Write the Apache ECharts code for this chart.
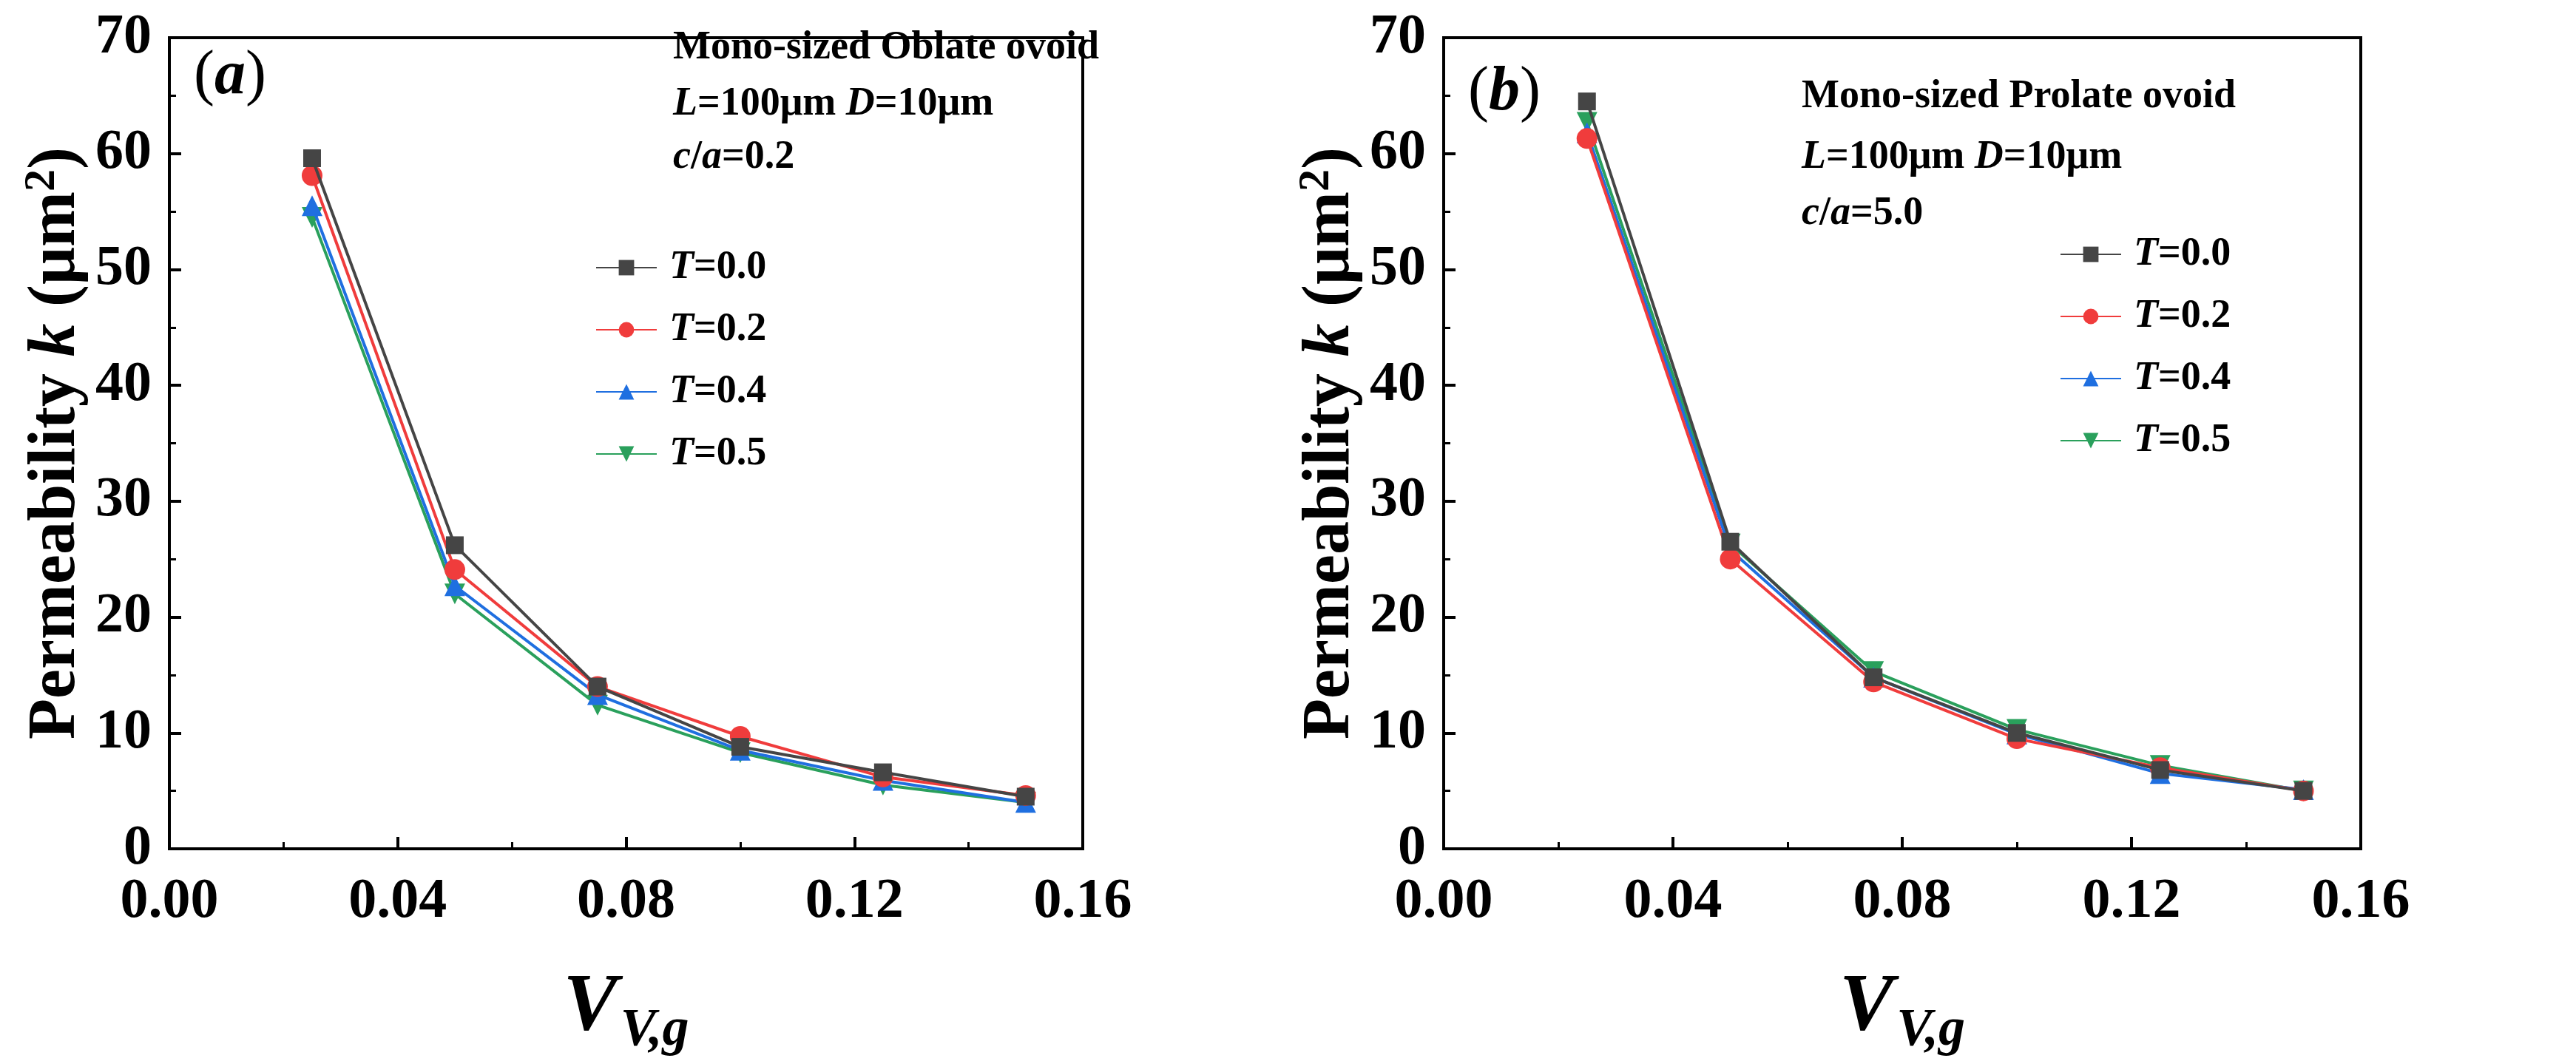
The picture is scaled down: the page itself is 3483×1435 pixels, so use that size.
<!DOCTYPE html>
<html><head><meta charset="utf-8">
<script src="https://cdn.jsdelivr.net/npm/echarts@6/dist/echarts.min.js"></script>
<style>html,body{margin:0;padding:0;background:#fff}#c{width:3483px;height:1435px}</style>
</head><body><div id="c"></div>
<script>
const xValues = [0.025, 0.05, 0.075, 0.1, 0.125, 0.15];
const seriesNames = ['0.0', '0.2', '0.4', '0.5'];
const oblateT00 = [59.6, 26.2, 14.0, 8.8, 6.6, 4.5];
const oblateT02 = [58.1, 24.1, 14.0, 9.7, 6.2, 4.6];
const oblateT04 = [55.5, 22.7, 13.3, 8.5, 5.9, 4.0];
const oblateT05 = [54.5, 22.0, 12.4, 8.3, 5.5, 4.0];
const prolateT00 = [64.5, 26.5, 14.8, 10.0, 6.8, 5.0];
const prolateT02 = [61.3, 25.0, 14.4, 9.5, 7.0, 5.0];
const prolateT04 = [61.8, 25.8, 14.8, 9.9, 6.5, 5.1];
const prolateT05 = [62.7, 26.3, 15.3, 10.3, 7.2, 5.0];
const xTicks = ['0.00', '0.04', '0.08', '0.12', '0.16'];
const yTicks = [0, 10, 20, 30, 40, 50, 60, 70];

const colors = ['#454545', '#f03c3c', '#1f6fe0', '#2aa05c'];
const symbols = ['rect', 'circle', 'triangle', 'path://M0,0 L10,0 L5,9 Z'];
const FF = '"Liberation Serif","Times New Roman",serif';

const chart = echarts.init(document.getElementById('c'));
const panels = [
  {left: 229, width: 1235, data: [oblateT00, oblateT02, oblateT04, oblateT05], legendLeft: 800, legendTop: 330},
  {left: 1952, width: 1240, data: [prolateT00, prolateT02, prolateT04, prolateT05], legendLeft: 2780, legendTop: 312}
];
const grid = [], xAxis = [], yAxis = [], series = [], legend = [];
panels.forEach((p, i) => {
  grid.push({left: p.left, width: p.width, top: 51, height: 1130, show: true, borderColor: '#000', borderWidth: 4, backgroundColor: 'transparent'});
  xAxis.push({type: 'value', gridIndex: i, min: 0, max: 0.16, interval: 0.04,
    axisLine: {lineStyle: {color: '#000', width: 4}},
    axisTick: {inside: true, length: 16, lineStyle: {width: 4, color: '#000'}},
    minorTick: {show: true, splitNumber: 2, length: 9, lineStyle: {width: 3, color: '#000'}},
    splitLine: {show: false},
    axisLabel: {margin: 34, fontFamily: FF, fontWeight: 'bold', fontSize: 76, color: '#000',
      formatter: v => xTicks[Math.round(v / 0.04)]},
    name: '{v|V}{s|V,g}', nameLocation: 'middle', nameGap: 150,
    nameTextStyle: {rich: {
      v: {fontFamily: FF, fontStyle: 'italic', fontWeight: 'bold', fontSize: 110, color: '#000'},
      s: {fontFamily: FF, fontStyle: 'italic', fontWeight: 'bold', fontSize: 72, color: '#000', padding: [60, 0, 0, 4]}
    }}
  });
  yAxis.push({type: 'value', gridIndex: i, min: 0, max: 70, interval: 10,
    axisLine: {lineStyle: {color: '#000', width: 4}},
    axisTick: {inside: true, length: 16, lineStyle: {width: 4, color: '#000'}},
    minorTick: {show: true, splitNumber: 2, length: 9, lineStyle: {width: 3, color: '#000'}},
    splitLine: {show: false},
    axisLabel: {margin: 24, fontFamily: FF, fontWeight: 'bold', fontSize: 76, color: '#000',
      formatter: v => String(yTicks[Math.round(v / 10)])},
    name: '{n|Permeability }{k|k}{n| (μm}{sup|2}{n|)}', nameLocation: 'middle', nameGap: 102,
    nameTextStyle: {rich: {
      n: {fontFamily: FF, fontWeight: 'bold', fontSize: 90, color: '#000'},
      k: {fontFamily: FF, fontStyle: 'italic', fontWeight: 'bold', fontSize: 90, color: '#000'},
      sup: {fontFamily: FF, fontWeight: 'bold', fontSize: 60, color: '#000', padding: [0, 0, 40, 0]}
    }}
  });
  const names = [];
  p.data.forEach((d, j) => {
    const nm = 'T' + i + '_' + seriesNames[j];
    names.push(nm);
    series.push({type: 'line', name: nm, xAxisIndex: i, yAxisIndex: i,
      data: xValues.map((x, k) => [x, d[k]]),
      symbol: symbols[j], symbolSize: j === 0 ? 24 : 28, color: colors[j],
      lineStyle: {width: 4, color: colors[j]}, itemStyle: {color: colors[j]}, z: 10 - j});
  });
  legend.push({data: names, orient: 'vertical', left: p.legendLeft, top: p.legendTop,
    itemWidth: 82, itemHeight: 26, itemGap: 30,
    formatter: n => '{t|T}{v|=' + n.split('_')[1] + '}',
    textStyle: {padding: [0, 0, 0, 12], rich: {
      t: {fontFamily: FF, fontStyle: 'italic', fontWeight: 'bold', fontSize: 54, color: '#000'},
      v: {fontFamily: FF, fontWeight: 'bold', fontSize: 54, color: '#000'}
    }}});
});

function ann(x, y, parts) {
  return {type: 'text', left: x, top: y, style: {text: parts.text, rich: parts.rich, fill: '#000'}};
}
const R = {
  n: {fontFamily: FF, fontWeight: 'bold', fontSize: 54, fill: '#000', color: '#000'},
  i: {fontFamily: FF, fontStyle: 'italic', fontWeight: 'bold', fontSize: 54, fill: '#000', color: '#000'},
  pn: {fontFamily: FF, fontSize: 84, fill: '#000', color: '#000'},
  pi: {fontFamily: FF, fontStyle: 'italic', fontWeight: 'bold', fontSize: 84, fill: '#000', color: '#000'}
};
const graphic = [
  ann(262, 62, {text: '{pn|(}{pi|a}{pn|)}', rich: R}),
  ann(910, 38, {text: '{n|Mono-sized Oblate ovoid}', rich: R}),
  ann(910, 114, {text: '{i|L}{n|=100μm }{i|D}{n|=10μm}', rich: R}),
  ann(910, 186, {text: '{i|c}{n|/}{i|a}{n|=0.2}', rich: R}),
  ann(1985, 84, {text: '{pn|(}{pi|b}{pn|)}', rich: R}),
  ann(2436, 104, {text: '{n|Mono-sized Prolate ovoid}', rich: R}),
  ann(2436, 186, {text: '{i|L}{n|=100μm }{i|D}{n|=10μm}', rich: R}),
  ann(2436, 262, {text: '{i|c}{n|/}{i|a}{n|=5.0}', rich: R})
];
chart.setOption({animation: false, backgroundColor: '#fff', grid, xAxis, yAxis, series, legend, graphic});
</script></body></html>
